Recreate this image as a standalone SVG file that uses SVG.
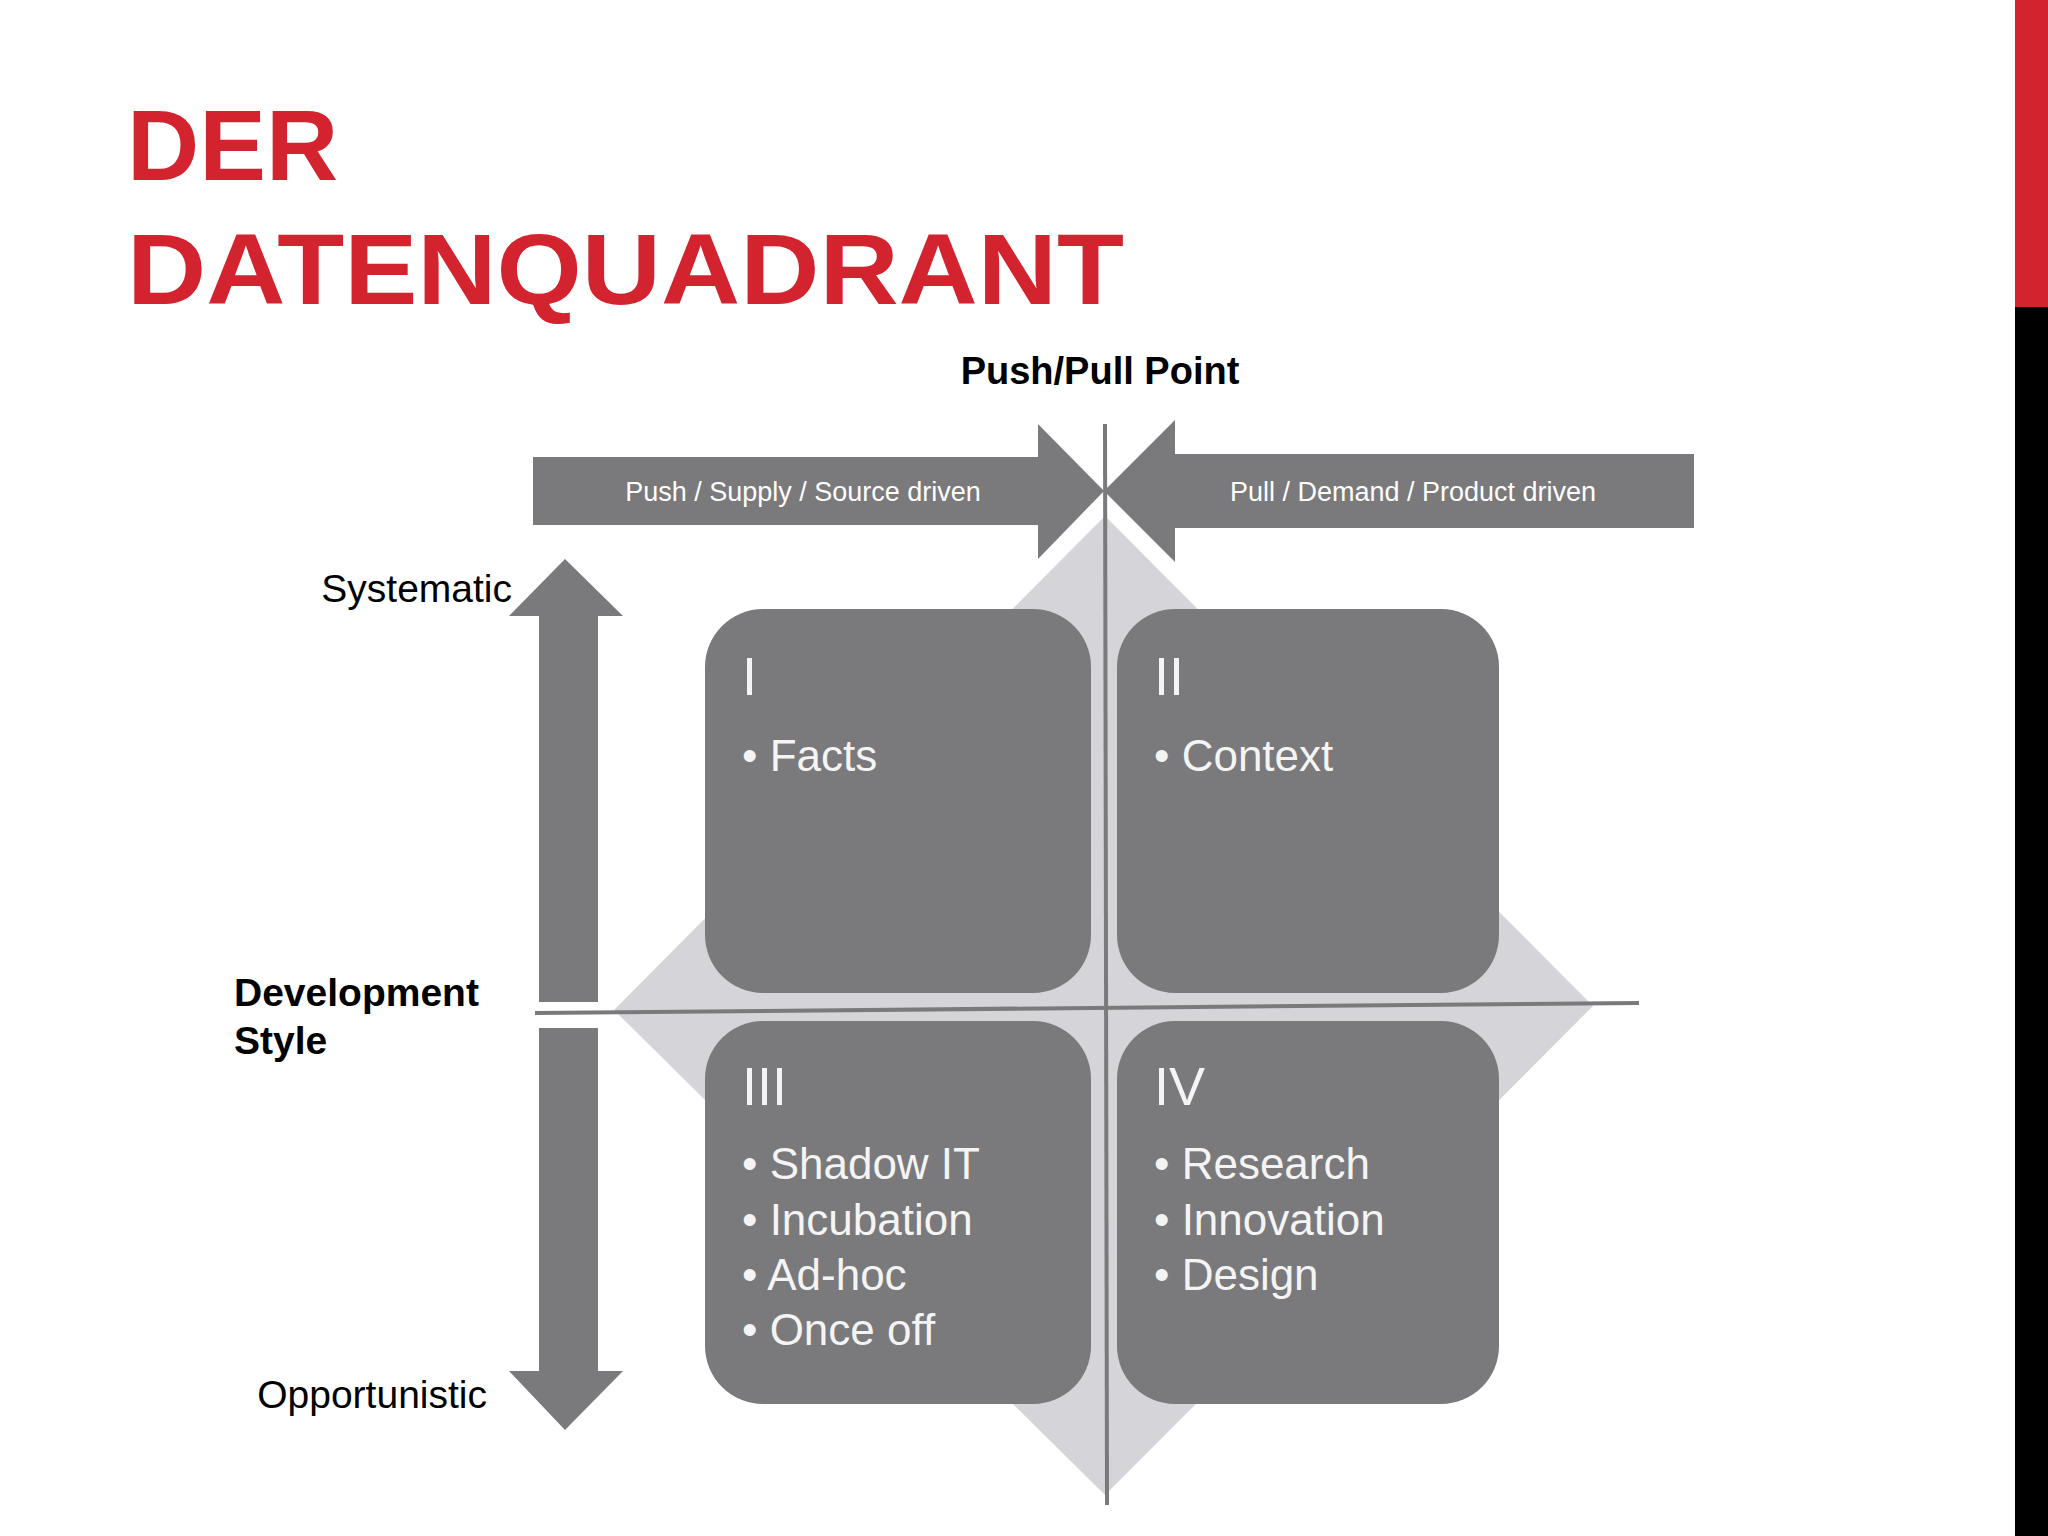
<svg xmlns="http://www.w3.org/2000/svg" width="2048" height="1536" viewBox="0 0 2048 1536">
<style>
text{font-family:"Liberation Sans",Arial,sans-serif}
.title{font-weight:bold;font-size:100px;fill:#d2232f}
.box{fill:#7a797c}
.bt{fill:#f4f4f4;font-size:44px}
.num{fill:#f4f4f4;font-size:54px}
.arr{fill:#7a797c}
.al{fill:#fff;font-size:27px;text-anchor:middle}
.lbl{fill:#000;font-size:39px}
</style>
<rect width="2048" height="1536" fill="#fff"/>
<rect x="2015" y="0" width="33" height="307" fill="#d2232f"/>
<rect x="2015" y="307" width="33" height="1229" fill="#000"/>
<text class="title" x="127" y="180">DER</text>
<text class="title" x="127" y="304" textLength="997" lengthAdjust="spacingAndGlyphs">DATENQUADRANT</text>
<text x="1100" y="384" font-size="38" font-weight="bold" text-anchor="middle">Push/Pull Point</text>
<g id="diamond"><polygon points="1105,516 1593,1006 1105,1495 614,1010" fill="#d5d4d8"/></g>
<g id="push"><polygon class="arr" points="533,457 1038,457 1038,424 1104,491 1038,559 1038,525 533,525"/><text class="al" x="803" y="501">Push / Supply / Source driven</text></g>
<g id="pull"><polygon class="arr" points="1694,454 1175,454 1175,420 1104,491 1175,562 1175,528 1694,528"/><text class="al" x="1413" y="501">Pull / Demand / Product driven</text></g>
<g id="vaxis">
<polygon class="arr" points="565,559 623,616 598,616 598,1002 539,1002 539,616 509,616"/>
<polygon class="arr" points="539,1028 598,1028 598,1371 623,1371 565,1430 509,1371 539,1371"/>
</g>
<g id="q1"><rect class="box" x="705" y="609" width="386" height="384" rx="58"/><text class="num" x="742" y="695">I</text><text class="bt" x="742" y="771">•  Facts</text></g>
<g id="q2"><rect class="box" x="1117" y="609" width="382" height="384" rx="58"/><text class="num" x="1154" y="695">II</text><text class="bt" x="1154" y="771">•  Context</text></g>
<g id="q3"><rect class="box" x="705" y="1021" width="386" height="383" rx="58"/><text class="num" x="742" y="1105">III</text>
<text class="bt" x="742" y="1179">•  Shadow IT</text><text class="bt" x="742" y="1235">•  Incubation</text><text class="bt" x="742" y="1290">•  Ad-hoc</text><text class="bt" x="742" y="1345">•  Once off</text></g>
<g id="q4"><rect class="box" x="1117" y="1021" width="382" height="383" rx="58"/><text class="num" x="1154" y="1105">IV</text>
<text class="bt" x="1154" y="1179">•  Research</text><text class="bt" x="1154" y="1235">•  Innovation</text><text class="bt" x="1154" y="1290">•  Design</text></g>
<g id="connectors" stroke="#7a797c" stroke-width="4">
<line x1="1105" y1="424" x2="1107" y2="1505"/>
<line x1="535" y1="1013" x2="1639" y2="1003"/>
</g>
<text class="lbl" x="512" y="602" text-anchor="end">Systematic</text>
<text class="lbl" x="487" y="1408" text-anchor="end">Opportunistic</text>
<text class="lbl" x="234" y="1006" font-weight="bold">Development</text>
<text class="lbl" x="234" y="1054" font-weight="bold">Style</text>
</svg>
